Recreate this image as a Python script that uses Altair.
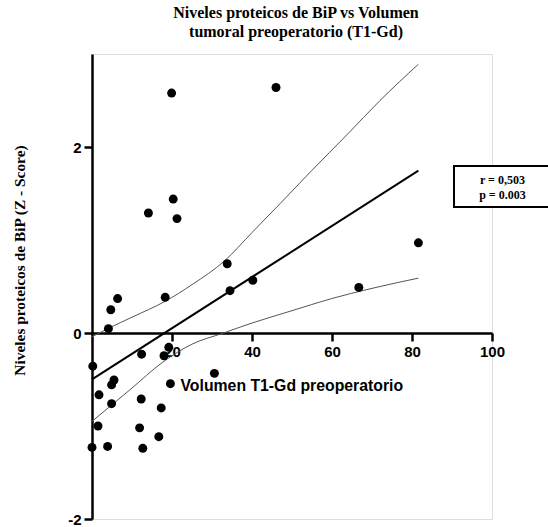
import altair as alt
import pandas as pd

# Scatter data
vol = [19.9, 46.0, 20.3, 14.1, 21.25, 33.8, 34.5, 40.2, 18.3, 6.4, 4.7, 4.1,
       81.6, 66.7, 19.2, 18.0, 12.4, 0.2, 30.6, 5.5, 4.9, 19.6, 1.75, 12.3,
       4.9, 17.3, 1.5, 11.9, 16.7, 0.0, 3.9, 12.7]
bip = [2.58, 2.64, 1.44, 1.29, 1.23, 0.745, 0.455, 0.567, 0.384, 0.37, 0.25, 0.047,
       0.97, 0.49, -0.154, -0.245, -0.228, -0.357, -0.434, -0.505, -0.558, -0.545, -0.665, -0.71,
       -0.76, -0.806, -1.0, -1.02, -1.115, -1.23, -1.22, -1.24]

# Regression line (read endpoints)
fit_x = [0.0, 81.6]
fit_y = [-0.498, 1.745]

# Confidence band curves (read)
upper_x = [0.0, 4.1, 10.0, 18.25, 25.0, 33.25, 40.0, 47.0, 55.0, 63.7, 72.0, 81.6]
upper_y = [-0.04, 0.05, 0.17, 0.34, 0.52, 0.78, 1.08, 1.39, 1.75, 2.13, 2.50, 2.89]
lower_x = [0.0, 9.5, 17.8, 25.0, 32.9, 39.5, 50.0, 59.9, 70.0, 81.6]
lower_y = [-0.95, -0.61, -0.31, -0.12, 0.0, 0.10, 0.24, 0.37, 0.48, 0.59]

# Annotation
stats_lines = ["r = 0,503", "p = 0.003"]

x_ticks = [20, 40, 60, 80, 100]
y_ticks = [-2, 0, 2]

W, H = 400, 465

pts = pd.DataFrame({"x": vol, "y": bip})
fit = pd.DataFrame({"x": fit_x, "y": fit_y})
upper = pd.DataFrame({"x": upper_x, "y": upper_y})
lower = pd.DataFrame({"x": lower_x, "y": lower_y})
box = pd.DataFrame({"x": [90.5], "x2": [125.0], "y": [1.355], "y2": [1.796]})
txt = pd.DataFrame({"x": [102.6, 102.6], "y": [1.64, 1.48], "t": stats_lines})

xscale = alt.Scale(domain=[0, 100], nice=False, zero=False)
yscale = alt.Scale(domain=[-2, 3], nice=False, zero=False)

xaxis = alt.Axis(
    values=x_ticks, offset=-H * 2 / 5,
    domainColor="black", domainWidth=2.5, tickColor="black", tickWidth=2.5,
    labelColor="black", labelFontWeight="bold",
    title="Volumen T1-Gd preoperatorio", titleFont="Liberation Sans",
    titleFontWeight="bold", titleFontSize=15.8,
    titleAlign="left", titleBaseline="middle", titleX=88, titleY=52, titleAngle=0,
)
yaxis = alt.Axis(
    values=y_ticks, labelExpr="datum.value + ''",
    domainColor="black", domainWidth=2.5, tickColor="black", tickWidth=2.5,
    labelColor="black", labelFontWeight="bold",
    title="Niveles proteicos de BiP (Z - Score)", titleFont="Liberation Serif",
    titleFontWeight="bold", titleFontSize=15.4,
    titleAngle=270, titleAlign="center", titleBaseline="middle",
    titleX=-73, titleY=206,
)


def enc():
    return dict(x=alt.X("x:Q", scale=xscale, axis=xaxis),
                y=alt.Y("y:Q", scale=yscale, axis=yaxis))


up = alt.Chart(upper).mark_line(color="#555", strokeWidth=1, interpolate="monotone").encode(**enc())
lo = alt.Chart(lower).mark_line(color="#555", strokeWidth=1, interpolate="monotone").encode(**enc())
fitline = alt.Chart(fit).mark_line(color="black", strokeWidth=2).encode(**enc())
points = alt.Chart(pts).mark_circle(size=80, color="black", opacity=1).encode(**enc())
rect = alt.Chart(box).mark_rect(fill="white", stroke="black", strokeWidth=2).encode(
    x=alt.X("x:Q", scale=xscale, axis=xaxis), x2="x2:Q",
    y=alt.Y("y:Q", scale=yscale, axis=yaxis), y2="y2:Q")
labels = alt.Chart(txt).mark_text(font="Liberation Serif", fontWeight="bold",
                                   fontSize=12, color="black").encode(
    text="t:N", **enc())

chart = alt.layer(up, lo, fitline, points, rect, labels).properties(
    width=W, height=H,
    autosize=alt.AutoSizeParams(type="none"),
    padding={"left": 92, "top": 54, "right": 56, "bottom": 8},
    title=alt.TitleParams(
        text=["Niveles proteicos de BiP vs Volumen", "tumoral preoperatorio (T1-Gd)"],
        font="Liberation Serif", fontSize=16, fontWeight="bold", color="black",
        anchor="middle", lineHeight=19, offset=14, dx=4,
    ),
).configure_view(stroke=None).configure(background="white").configure_axis(
    grid=False, tickSize=8,
    labelFont="Liberation Sans", labelFontSize=15, labelPadding=3, labelFlush=False,
    titleColor="#000000",
)

chart.save("out.html", embed_options={"renderer": "svg", "actions": False})
